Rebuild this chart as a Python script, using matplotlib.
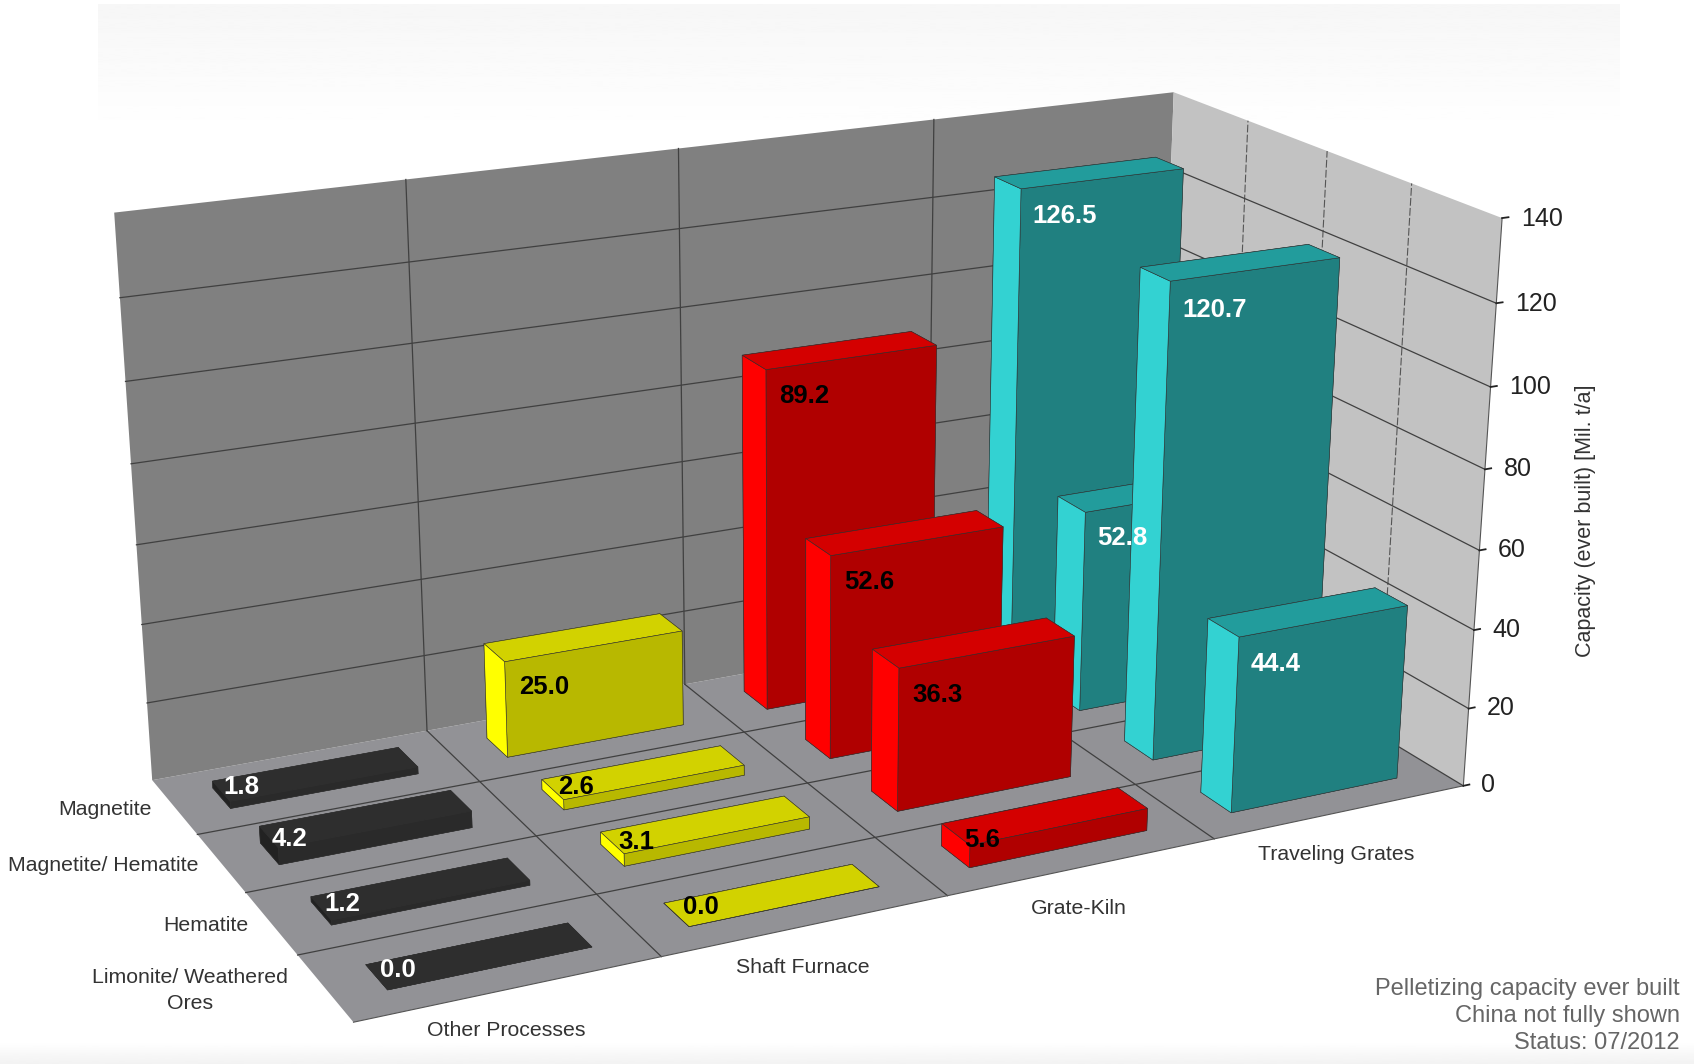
import numpy as np
import matplotlib
matplotlib.use('Agg')
import matplotlib.pyplot as plt
from mpl_toolkits.mplot3d.art3d import Poly3DCollection

plt.rcParams['font.family'] = ['Liberation Sans', 'DejaVu Sans']

# chart data, rows listed from the front of the floor to the back
processes = ['Other Processes', 'Shaft Furnace', 'Grate-Kiln', 'Traveling Grates']
ores = ['Limonite/ Weathered\nOres', 'Hematite', 'Magnetite/ Hematite', 'Magnetite']
other_processes = [0.0, 1.2, 4.2, 1.8]
shaft_furnace = [0.0, 3.1, 2.6, 25.0]
grate_kiln = [5.6, 36.3, 52.6, 89.2]
traveling_grates = [44.4, 120.7, 52.8, 126.5]
z_ticks = [0, 20, 40, 60, 80, 100, 120, 140]
notes = 'Pelletizing capacity ever built\nChina not fully shown\nStatus: 07/2012'

series = [other_processes, shaft_furnace, grate_kiln, traveling_grates]
# face colours: top, front, left
palette = [('#2e2e2e', '#2a2a2a', '#222222'),
           ('#d2d200', '#b8b800', '#ffff00'),
           ('#d40000', '#b00000', '#ff0000'),
           ('#229c9c', '#208080', '#33d2d2')]
label_colors = ['white', 'black', 'black', 'white']

W, H = 1694, 1064
S = W / 1568

# camera calibration: world corner (x, y, z) -> where it sits in the 1568 wide view
world = np.array([(0, 0, 0), (1, 0, 0), (2, 0, 0), (3, 0, 0), (4, 0, 0),
                  (0, 1, 0), (0, 2, 0), (0, 3, 0), (0, 4, 0),
                  (0, 4, 140), (1, 4, 140), (2, 4, 140), (3, 4, 140), (4, 4, 140),
                  (4, 3, 140), (4, 2, 140), (4, 1, 140), (4, 0, 140),
                  (4, 0, 100), (4, 0, 60), (1, 4, 0), (2, 4, 0)], dtype=float)
image = np.array([(330, 948), (606, 886), (868, 829), (1120, 776), (1355, 728),
                  (274, 884), (227, 827), (186, 775), (140, 720),
                  (105, 197), (377, 167), (628, 138), (865, 110), (1088, 87),
                  (1154, 113), (1226, 139), (1302, 169), (1390, 200),
                  (1380, 356), (1369, 507), (394, 676), (633, 632)], dtype=float) * S
image[:, 1] = H - image[:, 1]
weights = [3, 1, 1, 1, 3, 1, 1, 1, 3, 3, 1, 1, 1, 3, 1, 1, 1, 3, 1, 1, 1, 1]

rows, rhs = [], []
for (x, y, z), (u, v), k in zip(world, image, weights):
    rows.append([k * c for c in (x, y, z, 1, 0, 0, 0, 0, -u * x, -u * y, -u * z)])
    rows.append([k * c for c in (0, 0, 0, 0, x, y, z, 1, -v * x, -v * y, -v * z)])
    rhs += [k * u, k * v]
sol = np.linalg.lstsq(np.array(rows), np.array(rhs), rcond=None)[0]
P = np.append(sol, 1.0).reshape(3, 4)


def page(x, y, z, off_x=0, off_y=0):
    # figure fraction of a world point, offsets in 1568 view pixels (down is positive)
    u, v, w = P @ [x, y, z, 1]
    return (u / w + off_x * S) / W, (v / w - off_y * S) / H


fig = plt.figure(figsize=(W / 100, H / 100), dpi=100, facecolor='white')

# faint grey bands at the top and bottom of the page
bg = fig.add_axes([0, 0, 1, 1], zorder=0)
bg.set_axis_off()
bg.imshow(np.linspace(0.965, 1, 128).reshape(-1, 1), cmap='gray', vmin=0, vmax=1,
          extent=(98, 1620, 135, 4), aspect='auto')
bg.imshow(np.linspace(1, 0.95, 32).reshape(-1, 1), cmap='gray', vmin=0, vmax=1,
          extent=(0, W, H, 1042), aspect='auto')
bg.set_xlim(0, W)
bg.set_ylim(H, 0)

ax = fig.add_axes([0, 0, 1, 1], projection='3d', computed_zorder=False, zorder=1)
ax.set_axis_off()
ax.patch.set_visible(False)


def camera():
    Q = ax.transData.inverted().get_matrix() @ P
    return np.array([Q[0], Q[1], Q[2] - [0, 0, 0, 10], Q[2]])


ax.get_proj = camera

# walls and floor
zmax = z_ticks[-1]
n = len(processes)
walls = [([(0, 0, 0), (n, 0, 0), (n, n, 0), (0, n, 0)], '#929296'),
         ([(0, n, 0), (n, n, 0), (n, n, zmax), (0, n, zmax)], '#808080'),
         ([(n, 0, 0), (n, n, 0), (n, n, zmax), (n, 0, zmax)], '#c2c2c2')]
for verts, col in walls:
    poly = Poly3DCollection([verts], facecolors=col, edgecolors='none', zorder=1)
    poly.set_clip_on(False)
    ax.add_collection3d(poly)

line = dict(color='#404040', lw=0.9, zorder=2, clip_on=False)
for i in range(1, n):
    ax.plot([i, i], [0, n], [0, 0], **line)
    ax.plot([0, n], [i, i], [0, 0], **line)
    ax.plot([i, i], [n, n], [0, zmax], **line)
    ax.plot([n, n], [i, i], [0, zmax], color='#555555', lw=0.8, ls=(0, (7, 2)), zorder=2, clip_on=False)
for t in z_ticks[1:-1]:
    ax.plot([0, n], [n, n], [t, t], **line)
    ax.plot([n, n], [n, 0], [t, t], **line)
ax.plot([n, n], [0, n], [0, 0], **line)
ax.plot([0, n], [0, 0], [0, 0], color='#555555', lw=0.8, zorder=2, clip_on=False)
ax.plot([n, n], [0, 0], [0, zmax], color='#555555', lw=0.8, zorder=2, clip_on=False)

# bars, back row first and right to left so nearer bars cover the farther ones
bar_dx, bar_dy = 0.67, 0.38
order = 3
for j in range(n - 1, -1, -1):
    for i in range(n - 1, -1, -1):
        value = series[i][j]
        top, front, left = palette[i]
        x0, y0 = i + (1 - bar_dx) / 2, j + (1 - bar_dy) / 2
        bar = ax.bar3d(x0, y0, 0, bar_dx, bar_dy, value, shade=False,
                       color=[top, top, front, front, left, left],
                       edgecolor='#303030', linewidth=0.4)
        bar.set_zorder(order)
        bar.set_clip_on(False)
        order += 1
        if value < 10:
            lx, lz = x0 - 0.02, 5 + 0.4 * value
        else:
            lx, lz = x0 + 0.05, value - 7.3
        fx, fy = page(lx, y0, lz)
        fig.text(fx, fy, f'{value:.1f}', color=label_colors[i], fontsize=18.5,
                 fontweight='bold', ha='left', va='center', zorder=5)

# axis text
for t in z_ticks:
    ax.plot([n, n + 0.025], [0, 0], [t, t], color='#222222', lw=1.3, zorder=2, clip_on=False)
    fx, fy = page(n + 0.075, 0, t, off_y=3)
    fig.text(fx, fy, str(t), fontsize=18, color='#222222', ha='left', va='center', zorder=5)
for i, name in enumerate(processes):
    fx, fy = page(i + 0.5, 0, 0, -4, 39)
    fig.text(fx, fy, name, fontsize=15.3, color='#333333', ha='center', va='center', zorder=5)
for j, name in enumerate(ores):
    gap = 34 if '\n' in name else 21
    fx, fy = page(0, j + 0.5, 0, -gap, 2)
    fig.text(fx, fy, name, fontsize=15.3, color='#333333', ha='right', va='center',
             multialignment='center', linespacing=1.45, zorder=5)

fig.text(1468 * S / W, 1 - 482 * S / H, 'Capacity (ever built) [Mil. t/a]', rotation=90,
         fontsize=15.5, color='#333333', ha='center', va='center', zorder=5)
fig.text(1555 * S / W, 1 - 976 * S / H, notes, fontsize=17, color='#666666', ha='right', va='bottom',
         linespacing=1.3, zorder=5)

fig.savefig('out.png', dpi=100)
